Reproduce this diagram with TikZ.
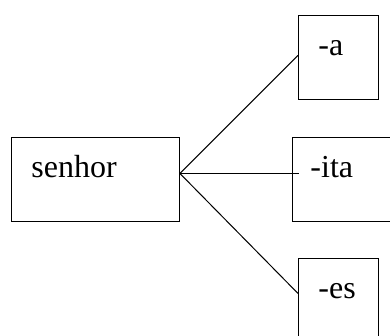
\documentclass[tikz,border=0pt]{standalone}
\usepackage{fontspec}
\setmainfont{Liberation Serif}
\tikzset{
  wordbox/.style={draw, line width=0.9pt, anchor=north west, inner xsep=20pt,
    inner ysep=0pt, text height=40pt, text depth=44pt, align=left,
    font=\fontsize{32}{32}\selectfont},
  link/.style={line width=1pt}
}

\begin{document}
\begin{tikzpicture}[x=1pt,y=-1pt]
  \clip (0,0) rectangle (390,336);
  \fill[white] (0,0) rectangle (390,336);
  % stem and endings
  \node[wordbox,text width=128pt] (senhor) at (11,137) {senhor};
  \node[wordbox,text width=40pt]  (a)      at (298,15)  {-a};
  \node[wordbox,text width=62pt,inner xsep=18pt] (ita) at (292,137) {-ita};
  \node[wordbox,text width=40pt]  (es)     at (298,258) {-es};
  % fan of connectors
  \coordinate (fan) at ([yshift=6pt]senhor.east);
  \draw[link] (fan) -- ([yshift=2pt]a.west);
  \draw[link] (fan) -- ([xshift=7pt,yshift=6pt]ita.west);
  \draw[link] (fan) -- ([yshift=7pt]es.west);
\end{tikzpicture}
\end{document}
